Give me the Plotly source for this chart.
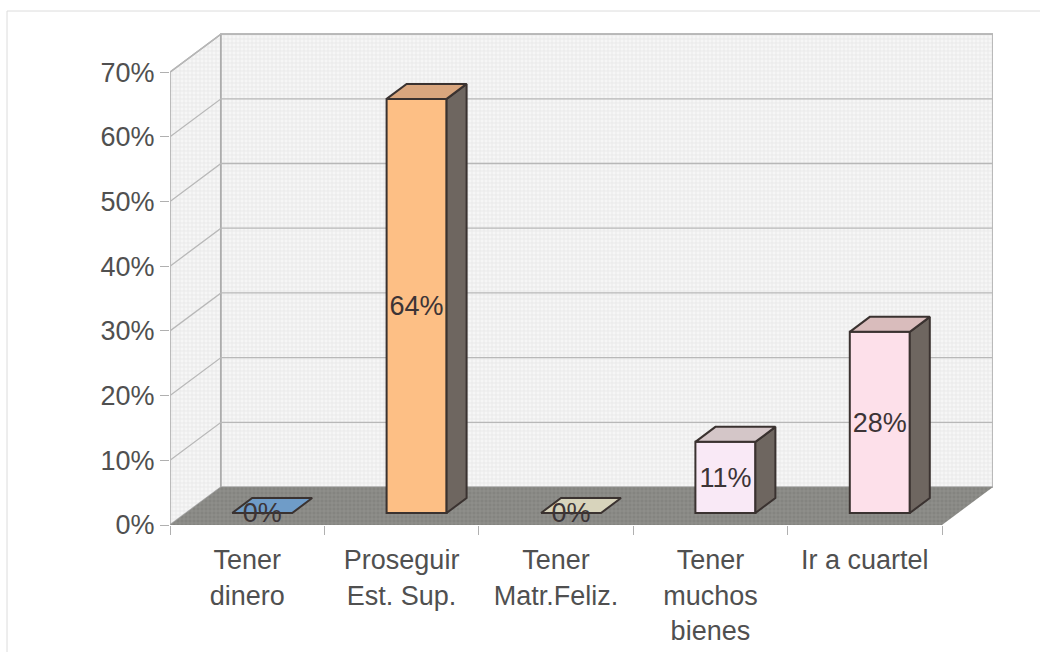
import plotly.graph_objects as go

categories = ["Tener<br>dinero", "Proseguir<br>Est. Sup.", "Tener<br>Matr.Feliz.", "Tener<br>muchos<br>bienes", "Ir a cuartel"]
values = [0, 64, 0, 11, 28]
labels = ["0%", "64%", "0%", "11%", "28%"]
front_colors = ["#7fa8d0", "#fdbf85", "#e3dfc8", "#f9e9f6", "#fde0ea"]
top_colors = ["#6f9cc8", "#d9a67e", "#d8d4bc", "#d4c6c8", "#d9bcbc"]
y_ticks = [0, 10, 20, 30, 40, 50, 60, 70]
y_tick_text = ["0%", "10%", "20%", "30%", "40%", "50%", "60%", "70%"]

# one category is 154.4 px, ten percent is 64.7 px
PX_X, PX_Y = 154.4, 6.47
WALL_DX, WALL_DY = 51 / PX_X, 38 / PX_Y
BAR_OX, BAR_OY = 15 / PX_X, 12 / PX_Y
BAR_W = 60 / PX_X
BAR_DX, BAR_DY = 20 / PX_X, 15 / PX_Y
LABEL_NUDGE = 2.5 / PX_Y
N = len(categories)
TOP = y_ticks[-1]
LINE = "#3a3230"
X_MAX = (993 - 170) / PX_X
Y_MAX = (525 - 33) / PX_Y

fig = go.Figure()


def poly(xs, ys, fill, line=None, width=1, pattern=None, over=False):
    fig.add_trace(go.Scatter(
        x=xs + xs[:1], y=ys + ys[:1], mode="lines", fill="toself", fillcolor=fill,
        fillpattern=pattern, line=dict(color=line or fill, width=width if line else 0),
        xaxis="x2" if over else "x", yaxis="y2" if over else "y",
        hoverinfo="skip", showlegend=False))


wall_pat = dict(shape="+", size=4, solidity=0.3, fgcolor="#d6d6d6", bgcolor="#f6f6f6")
floor_pat = dict(shape="+", size=4, solidity=0.3, fgcolor="#a8a8a4", bgcolor="#848480")

poly([0, WALL_DX, WALL_DX, 0], [0, WALL_DY, TOP + WALL_DY, TOP], "#f4f4f4", "#a8a8a8", 1.5, wall_pat)
poly([WALL_DX, N + WALL_DX, N + WALL_DX, WALL_DX], [WALL_DY, WALL_DY, TOP + WALL_DY, TOP + WALL_DY],
     "#f4f4f4", "#a8a8a8", 1.5, wall_pat)

for t in y_ticks[1:]:
    fig.add_trace(go.Scatter(
        x=[0, WALL_DX, N + WALL_DX], y=[t, t + WALL_DY, t + WALL_DY], mode="lines",
        line=dict(color="#b8b8b8", width=1.3), hoverinfo="skip", showlegend=False))

poly([0, N, N + WALL_DX, WALL_DX], [0, 0, WALL_DY, WALL_DY], "#848480", None, 1, floor_pat)

centers = [i + 0.5 + BAR_OX for i in range(N)]

fig.add_trace(go.Bar(
    x=centers, y=values, base=[BAR_OY] * N, width=[BAR_W] * N,
    xaxis="x2", yaxis="y2",
    marker=dict(color=front_colors, line=dict(color=LINE, width=2)),
    hoverinfo="skip", showlegend=False))

for c, v, tc in zip(centers, values, top_colors):
    l, r = c - BAR_W / 2, c + BAR_W / 2
    if v > 0:
        poly([r, r + BAR_DX, r + BAR_DX, r],
             [BAR_OY, BAR_OY + BAR_DY, BAR_OY + BAR_DY + v, BAR_OY + v], "#6e6660", LINE, 2, over=True)
    poly([l, r, r + BAR_DX, l + BAR_DX],
         [BAR_OY + v, BAR_OY + v, BAR_OY + BAR_DY + v, BAR_OY + BAR_DY + v], tc, LINE, 2, over=True)

fig.add_trace(go.Scatter(
    x=centers, y=[BAR_OY + v / 2 - LABEL_NUDGE for v in values], mode="text", text=labels,
    textposition="middle center", textfont=dict(size=27, color="#3c3436"),
    xaxis="x2", yaxis="y2", hoverinfo="skip", showlegend=False))

fig.update_layout(
    width=1060, height=652, autosize=False, paper_bgcolor="white", plot_bgcolor="rgba(0,0,0,0)",
    margin=dict(l=170, r=67, t=33, b=127),
    font=dict(family="Liberation Sans, Arial, sans-serif", size=27, color="#505050"),
    xaxis=dict(range=[0, X_MAX], tickvals=[i + 0.5 for i in range(N)], ticktext=categories, automargin=False,
               ticks="outside", ticklen=11, tickcolor="rgba(0,0,0,0)", showgrid=False, zeroline=False, showline=False,
               tickfont=dict(size=27),
               minor=dict(tickvals=list(range(N + 1)), ticks="outside", ticklen=9, tickcolor="#b0b0b0", showgrid=False)),
    yaxis=dict(range=[0, Y_MAX], tickvals=y_ticks, ticktext=y_tick_text, ticks="outside", automargin=False,
               ticklen=9, tickcolor="#b0b0b0", showgrid=False, zeroline=False, showline=False,
               tickfont=dict(size=27)),
    xaxis2=dict(range=[0, X_MAX], overlaying="x", visible=False),
    yaxis2=dict(range=[0, Y_MAX], overlaying="y", visible=False),
    shapes=[
        dict(type="line", xref="paper", yref="paper", x0=(7 - 170) / 823, x1=(1040 - 170) / 823,
             y0=(525 - 11) / 492, y1=(525 - 11) / 492, line=dict(color="#dcdcdc", width=1)),
        dict(type="line", xref="paper", yref="paper", x0=(7 - 170) / 823, x1=(7 - 170) / 823,
             y0=(525 - 11) / 492, y1=(525 - 652) / 492, line=dict(color="#dcdcdc", width=1)),
    ],
)

fig.write_html("out.html", config=dict(displayModeBar=False),
               post_script="document.body.style.margin='0';document.body.style.overflow='hidden';")
